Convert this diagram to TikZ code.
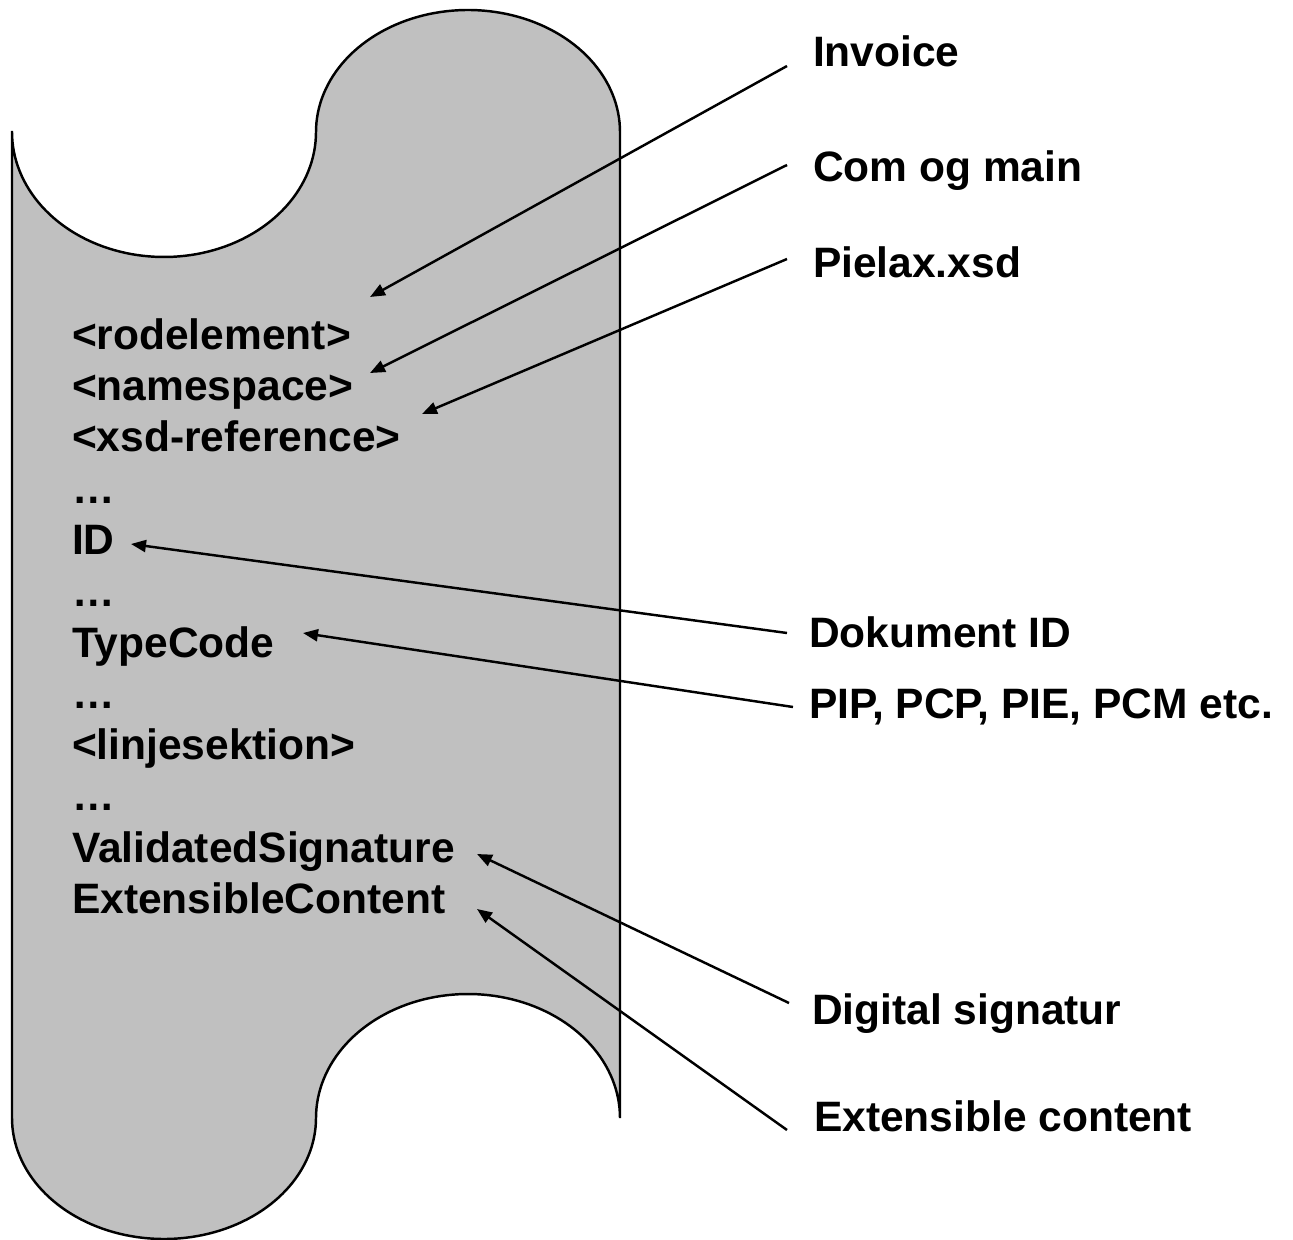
\documentclass[tikz,border=0pt]{standalone}
\usepackage{fontspec}
\setmainfont{Liberation Sans}
\usetikzlibrary{arrows.meta}
\begin{document}
\begin{tikzpicture}[x=0.02cm,y=-0.02cm,
  tape/.style={draw=black,fill={rgb,255:red,192;green,192;blue,192},line width=1.4pt,line join=miter},
  lbl/.style={anchor=base west,inner sep=0pt,outer sep=0pt,font=\fontsize{24.2pt}{29pt}\selectfont\bfseries},
  pointer/.style={draw=black,line width=1.4pt,-{Triangle[length=0.3cm,width=0.24cm]}}]
\useasboundingbox (0,0) rectangle (1293,1239);
% punched tape shape
\path[tape] (12,132) -- (12,1118)
  -- plot[domain=180:0,samples=80] ({164+152*cos(\x)},{1118+121*sin(\x)})
  -- plot[domain=180:360,samples=80] ({468+152*cos(\x)},{1118+124*sin(\x)})
  -- (620,132)
  -- plot[domain=0:-180,samples=80] ({468+152*cos(\x)},{132+122*sin(\x)})
  -- plot[domain=0:180,samples=80] ({164+152*cos(\x)},{132+125*sin(\x)})
  -- cycle;
% left text
\node[lbl] (t1) at (72,350) {<rodelement>};
\node[lbl] (t2) at (72,401) {<namespace>};
\node[lbl] (t3) at (72,452) {<xsd-reference>};
\node[lbl] (t4) at (72,503) {…};
\node[lbl] (t5) at (72,554) {ID};
\node[lbl] (t6) at (72,606) {…};
\node[lbl] (t7) at (72,657) {TypeCode};
\node[lbl] (t8) at (72,708) {…};
\node[lbl] (t9) at (72,759) {<linjesektion>};
\node[lbl] (t10) at (72,810) {…};
\node[lbl] (t11) at (72,862) {ValidatedSignature};
\node[lbl] (t12) at (72,913) {ExtensibleContent};
% right labels
\node[lbl] (r1) at (813,67) {Invoice};
\node[lbl] (r2) at (813,182) {Com og main};
\node[lbl] (r3) at (813,278) {Pielax.xsd};
\node[lbl] (r4) at (809,647) {Dokument ID};
\node[lbl] (r5) at (809,718) {PIP, PCP, PIE, PCM etc.};
\node[lbl] (r6) at (812,1024) {Digital signatur};
\node[lbl] (r7) at (814,1131) {Extensible content};
% connector ends
\coordinate (s1) at (787,66);   \coordinate (e1) at (370,297);
\coordinate (s2) at (787,165);  \coordinate (e2) at (370,373);
\coordinate (s3) at (787,259);  \coordinate (e3) at (422,414);
\coordinate (s4) at (787,633);  \coordinate (e4) at (131,544);
\coordinate (s5) at (793,707);  \coordinate (e5) at (303,633);
\coordinate (s6) at (789,1003); \coordinate (e6) at (477,854);
\coordinate (s7) at (787,1130); \coordinate (e7) at (477,909);
\draw[pointer] (s1) -- (e1);
\draw[pointer] (s2) -- (e2);
\draw[pointer] (s3) -- (e3);
\draw[pointer] (s4) -- (e4);
\draw[pointer] (s5) -- (e5);
\draw[pointer] (s6) -- (e6);
\draw[pointer] (s7) -- (e7);
\end{tikzpicture}
\end{document}
